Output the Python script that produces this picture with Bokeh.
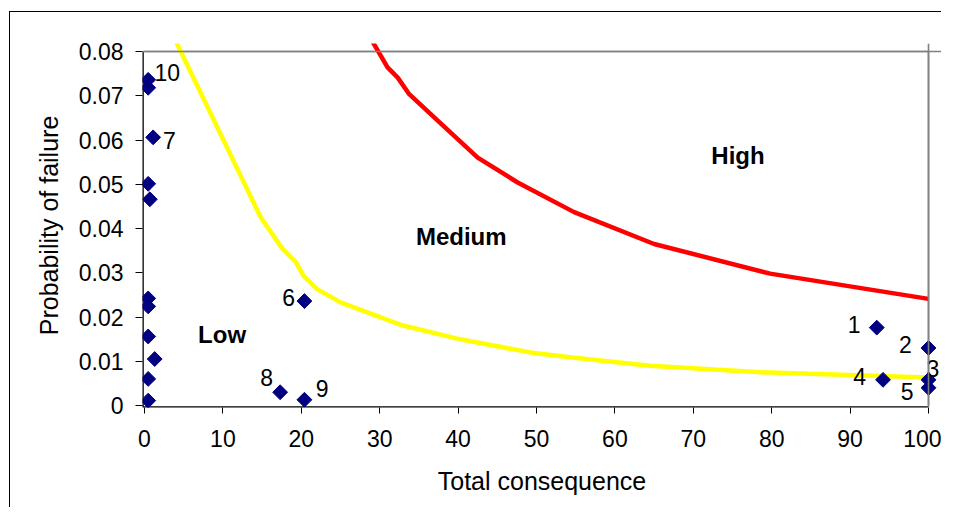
import math
from bokeh.plotting import figure
from bokeh.models import Range1d, FixedTicker, Span
from bokeh.core.properties import value
from bokeh.embed import file_html
from bokeh.resources import INLINE

# ---- data ----
x_ticks = [0, 10, 20, 30, 40, 50, 60, 70, 80, 90, 100]
y_ticks = [0, 0.01, 0.02, 0.03, 0.04, 0.05, 0.06, 0.07, 0.08]
y_tick_labels = ["0", "0.01", "0.02", "0.03", "0.04", "0.05", "0.06", "0.07", "0.08"]

# "High" boundary (red)
red_x = [29.0, 31.0, 32.3, 33.7, 37.4, 42.5, 47.6, 54.8, 65.0, 79.8, 100.0]
red_y = [0.0825, 0.0764, 0.0741, 0.0705, 0.0644, 0.0560, 0.0504, 0.0437, 0.0365, 0.0298, 0.0241]

# "Low" boundary (yellow)
yellow_x = [4.0, 14.8, 17.6, 19.3, 20.3, 22.0, 25.0, 32.7, 39.9, 49.2, 54.8, 64.5, 78.6, 100.0]
yellow_y = [0.0823, 0.0426, 0.0354, 0.0324, 0.0293, 0.0263, 0.0233, 0.0182, 0.0151, 0.0120,
            0.0108, 0.0090, 0.0075, 0.0063]

# components: total consequence vs probability of failure
comp_x = [93.4, 100.0, 100.0, 94.2, 100.0, 20.4, 1.1, 17.3, 20.4, 0.47,
          0.47, 0.47, 0.68, 0.47, 0.47, 0.47, 1.3, 0.47, 0.47]
comp_y = [0.0176, 0.0130, 0.0058, 0.0058, 0.0040, 0.0236, 0.0606, 0.0030, 0.0013, 0.0736,
          0.0718, 0.0501, 0.0466, 0.0242, 0.0224, 0.0156, 0.0105, 0.0060, 0.0011]
comp_labels = ["1", "2", "3", "4", "5", "6", "7", "8", "9", "10",
               "", "", "", "", "", "", "", "", ""]

region_names = ["Low", "Medium", "High"]
region_x = [9.9, 40.4, 75.7]
region_y = [0.0160, 0.0381, 0.0565]

# ---- styling (pixel offsets of the data labels) ----
label_dx = [-22.7, -23, 4.5, -23.4, -21.3, -15.7, 16.3, -13.6, 17.7, 19,
            0, 0, 0, 0, 0, 0, 0, 0, 0]
label_dy = [-3.5, -3, -11, -3.6, 3.4, -3.4, 3.3, -14.4, -11, -7,
            0, 0, 0, 0, 0, 0, 0, 0, 0]

FONT = "Liberation Sans"

p = figure(width=941, height=507,
           x_range=Range1d(-0.255, 101.658), y_range=Range1d(-0.000452, 0.081808),
           output_backend="svg", toolbar_location=None,
           min_border_left=142, min_border_right=0, min_border_top=43, min_border_bottom=100)
p.outline_line_color = None
p.grid.visible = False
p.background_fill_color = "white"
p.border_fill_color = None
# outer chart-area border (left and top edges), painted behind the transparent canvas border
p.styles = {"background": "linear-gradient(#000, #000) 9px 11px / 1px 100% no-repeat, "
                          "linear-gradient(#000, #000) 9px 11px / 100% 1px no-repeat, #fff"}

p.xaxis.ticker = FixedTicker(ticks=x_ticks)
p.yaxis.ticker = FixedTicker(ticks=y_ticks)
p.yaxis.major_label_overrides = {t: s for t, s in zip(y_ticks, y_tick_labels)}
p.xaxis.axis_label = "Total consequence"
p.yaxis.axis_label = "Probability of failure"
for ax in (p.xaxis[0], p.yaxis[0]):
    ax.axis_line_color = None
    ax.major_tick_line_color = "black"
    ax.major_tick_in = 0
    ax.minor_tick_line_color = None
    ax.major_label_text_font = FONT
    ax.major_label_text_font_size = "23px"
    ax.major_label_text_color = "black"
    ax.axis_label_text_font = FONT
    ax.axis_label_text_font_size = "25px"
    ax.axis_label_text_font_style = "normal"
    ax.axis_label_text_color = "black"
p.xaxis.major_tick_out = 6
p.yaxis.major_tick_out = 7
p.xaxis.major_label_standoff = 16
p.yaxis.major_label_standoff = 12
p.xaxis.axis_label_standoff = 17
p.yaxis.axis_label_standoff = 13

x0 = p.x_range.start
y0 = p.y_range.start
# plot-area border (grey top/right)
p.add_layout(Span(location=y_ticks[-1], dimension="width", line_color="#808080", line_width=1.6))
p.add_layout(Span(location=x_ticks[-1], dimension="height", line_color="#808080", line_width=1.6))
p.segment(x0=[x_ticks[0], x_ticks[-1]], y0=[y_ticks[-1], y_ticks[0]],
          x1=[x_ticks[-1], x_ticks[-1]], y1=[y_ticks[-1], y_ticks[-1]],
          line_color="#808080", line_width=1.6)
# black axis lines
p.line(x=[x_ticks[-1], x0, x0], y=[y0, y0, y_ticks[-1]],
       line_color="black", line_width=2.6)

p.line(yellow_x, yellow_y, line_color="#FFFF00", line_width=4.5, line_join="round")
p.line(red_x, red_y, line_color="#FF0000", line_width=4.5, line_join="round")

p.scatter(comp_x, comp_y, marker="square", size=10.5, angle=math.pi / 4,
          fill_color="#000080", line_color="#000080")

p.text(x=comp_x, y=comp_y, text=comp_labels, x_offset=label_dx, y_offset=label_dy,
       text_font=value(FONT), text_font_size="23px", text_color="black",
       text_align="center", text_baseline="middle")

p.text(x=region_x, y=region_y, text=region_names,
       text_font=value(FONT), text_font_size="24px", text_font_style="bold",
       text_color="black", text_align="center", text_baseline="middle")

open("out.html", "w").write(file_html(p, INLINE))
